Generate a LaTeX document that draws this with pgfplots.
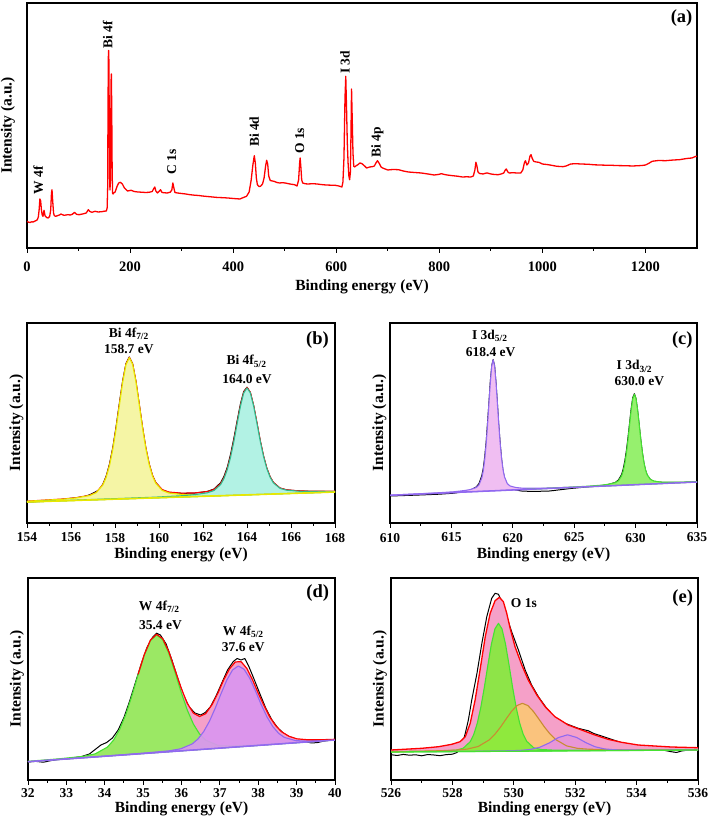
\documentclass[border=0pt]{standalone}
\usepackage{pgfplots}
\pgfplotsset{compat=1.18}
\usepackage{fontspec}
\setmainfont{Liberation Serif}
\definecolor{yfill}{RGB}{245,245,165}
\definecolor{yline}{RGB}{232,232,0}
\definecolor{cfill}{RGB}{178,242,228}
\definecolor{cline}{RGB}{50,185,140}
\definecolor{pfill}{RGB}{240,190,242}
\definecolor{pline}{RGB}{145,105,240}
\definecolor{gfill}{RGB}{150,240,110}
\definecolor{gline}{RGB}{70,225,50}
\definecolor{dgfill}{RGB}{155,232,100}
\definecolor{dpfill}{RGB}{218,150,240}
\definecolor{pinkfill}{RGB}{245,160,200}
\definecolor{egfill}{RGB}{125,240,50}
\definecolor{ofill}{RGB}{250,195,125}
\definecolor{oline}{RGB}{200,140,50}
\definecolor{epfill}{RGB}{232,150,215}
\newcommand{\lab}{\fontsize{15.5}{16}\selectfont\bfseries}
\newcommand{\ann}{\fontsize{13.5}{15}\selectfont\bfseries}
\newcommand{\pan}{\fontsize{18.5}{19}\selectfont\bfseries}
\pgfplotsset{
  panel/.style={
    scale only axis,
    anchor=south west,
    axis line style={line width=1.1pt},
    tick align=outside,
    xtick pos=bottom,
    ytick=\empty,
    major tick length=5pt,
    minor tick length=3pt,
    tick style={black, line width=0.9pt},
    minor x tick num=1,
    ymin=0,
    /pgf/number format/assume math mode=true,
    /pgf/number format/1000 sep={},
    xlabel={Binding energy (eV)},
    ylabel={Intensity (a.u.)},
    xticklabel style={font=\fontsize{13.5}{14}\selectfont\bfseries},
  }
}
\begin{document}
\begin{tikzpicture}
\useasboundingbox (0pt,0pt) rectangle (710pt,821pt);
% ---------------- (a) ----------------
\begin{axis}[panel, at={(27pt,573pt)}, width=670pt, height=245pt,
  xmin=0, xmax=1300, ymax=245,
  xtick={0,200,400,600,800,1000,1200},
  xticklabel style={font=\fontsize{14.5}{15}\selectfont\bfseries, yshift=-5pt},
  every axis x label/.style={at={([yshift=-38.7pt]axis description cs:0.5,0)}, anchor=center, font=\lab},
  every axis y label/.style={at={([xshift=-19pt]axis description cs:0,0.5)}, anchor=center, rotate=90, font=\lab},
]
\addplot[red, line width=1.3pt, line join=round] coordinates {
(0,26.7)(3,25.8)(6,25.5)(9,26.2)(12,26)(15,26.8)(18,27.5)(20,28.3)(22,31)(23.5,38)(25,49)(26.5,47)(28,38)(29.5,33)(31,31.7)(33,37.7)(35,32.3)(38,30.5)(41,30)(44,31.5)(46,38)(47.5,55)(48.5,58.3)(50,46)(51.5,35)(53,32.3)(56,31.7)(60,32.5)(63,33)(66,34)(69,33.2)(72,32.7)(76,33)(79,33.3)(84,33)(88,33.7)(92,35.7)(96,33.7)(101,33.3)(106,33.8)(110,34.3)(115,35)(119,38.3)(122,36.5)(126,35.7)(132,36.7)(138,36)(145,36.3)(150,36.8)(154,37)(155.5,40)(156.5,60)(157.2,140)(157.8,190)(158.4,197.5)(159,185)(159.6,120)(160.3,70)(161,58)(161.8,68)(162.5,120)(163.2,168)(163.7,174)(164.4,140)(165.2,80)(166,55)(167,54)(168,55)(171,56)(175,62)(178,65)(181,65.7)(185,64)(189,60)(195,57)(202,57.7)(208,56.5)(215,56)(222,55.8)(230,55.5)(237,55.7)(243,56.5)(246,59.5)(248,61)(250,57)(253,55)(256,56.5)(259,58.3)(262,55.5)(267,55.2)(272,55)(278,55.8)(281,58)(283,65)(285,60)(287,55.5)(292,55)(300,54.5)(308,54)(316,53.3)(325,52.8)(333,52.5)(340,52)(350,51.5)(360,51)(370,50.5)(380,50.3)(390,50)(400,49.5)(413,49)(420,50.5)(426,51.7)(431,56)(435,68)(438,82)(441,92.3)(443,85)(445,70)(447,63.3)(450,61.5)(453,61.7)(457,64)(460,70)(463,82)(465,87.7)(467,84)(469,72)(472,67.5)(476,67)(479,66.7)(485,65.5)(490,65)(496,65.3)(501,65)(510,64)(519,63.3)(524,62)(527,68)(529,85)(530,90)(531.5,80)(533,68)(535,65)(540,64.2)(545,64)(555,64.3)(563,64)(570,63.5)(580,63)(590,62.8)(598,62.7)(605,62)(611,61)(613,66)(615,90)(617,150)(618.5,171.7)(620,140)(621.5,105)(623,85)(624.5,72)(626,68.3)(627.5,76)(628.5,110)(629.7,159)(631,130)(632.5,95)(634,81.7)(636,81)(638,82)(642,83.3)(646,85)(650,84.3)(655,82)(659,80)(665,81)(670,81.3)(674,82)(677,85)(680,87.3)(683,85)(687,81)(690,80)(695,79)(700,78)(710,78.5)(721,78.3)(730,77)(740,76)(752,75.5)(765,75)(778,74)(790,73)(798,73.5)(804,74.3)(810,73.5)(815,73)(826,72.3)(835,71.8)(845,71)(853,71.2)(861,71)(866,72)(869,78)(871,85.7)(873,82)(875,76)(878,74.5)(885,74)(890,74.8)(893,75)(900,74)(907,73.5)(914,73.3)(920,74)(925,75)(928,78)(930,79)(933,76)(936,75)(943,75.3)(950,75)(958,75)(962,78)(965,85)(967,87.3)(970,83)(973,85)(976,92)(978,93.3)(980,90)(983,86.7)(988,86)(993,85.7)(1000,84)(1011,83.3)(1020,82.5)(1028,81.7)(1035,81.5)(1040,81.3)(1046,82)(1055,84)(1064,84.3)(1075,84)(1090,83.7)(1100,83.2)(1110,83)(1122,82.8)(1134,82.7)(1147,82.4)(1160,82.3)(1175,82)(1187,82.3)(1195,82.6)(1200,83)(1206,84.5)(1213,86.7)(1225,87.5)(1239,87.3)(1250,87.8)(1255,88)(1266,88.3)(1280,89.5)(1290,90)(1298,91.7)(1300,91.5)
};
\node[rotate=90, font=\ann] at (axis cs:22,68) {W 4f};
\node[rotate=90, font=\ann] at (axis cs:156.5,213.3) {Bi 4f};
\node[rotate=90, font=\ann] at (axis cs:281,86.3) {C 1s};
\node[rotate=90, font=\ann] at (axis cs:441,116.3) {Bi 4d};
\node[rotate=90, font=\ann] at (axis cs:529,107.3) {O 1s};
\node[rotate=90, font=\ann] at (axis cs:617,185.7) {I 3d};
\node[rotate=90, font=\ann] at (axis cs:680,106) {Bi 4p};
\node[font=\pan] at (axis cs:1270,230) {(a)};
\end{axis}
% ---------------- (b) ----------------
\begin{axis}[panel, at={(27pt,298pt)}, width=308pt, height=200pt,
  xmin=154, xmax=168, ymax=200,
  xtick={154,156,158,160,162,164,166,168},
  xticklabel style={yshift=-1.5pt},
  every axis x label/.style={at={([yshift=-32pt]axis description cs:0.5,0)}, anchor=center, font=\lab},
  every axis y label/.style={at={([xshift=-10.5pt]axis description cs:0,0.5)}, anchor=center, rotate=90, font=\lab},
]
\addplot[black, line width=1pt, line join=round] coordinates {
(154,21.0)(154.5,21.4)(155,22.0)(155.65,23.8)(156.25,25.3)(156.6,26.5)(156.85,28.2)(157.15,31.5)(157.3,33.5)(157.45,39.0)(157.6,47.0)(157.75,59.0)(157.9,75.5)(158.05,96.5)(158.2,120.0)(158.35,142.5)(158.5,159.5)(158.65,166.0)(158.8,159.3)(158.95,141.7)(159.1,118.9)(159.25,95.7)(159.4,75.2)(159.55,59.3)(159.7,47.8)(159.85,40.5)(160.15,33.0)(160.45,30.6)(161.05,29.6)(161.65,30.0)(162.2,31.6)(162.5,34.0)(162.8,40.3)(162.95,46.5)(163.1,55.5)(163.25,68.5)(163.4,84.5)(163.55,102.0)(163.7,119.0)(163.85,131.5)(164.0,135.8)(164.15,130.5)(164.3,117.4)(164.45,100.0)(164.6,82.3)(164.75,67.0)(164.9,54.8)(165.05,46.2)(165.2,40.5)(165.5,34.9)(165.8,33.1)(166.4,32.0)(167.0,31.6)(168,31.4)
};
\addplot[red, line width=1.2pt, line join=round] coordinates {
(154,21.8)(155.65,24.0)(156.25,25.3)(156.85,27.7)(157.15,30.6)(157.45,38.4)(157.6,46.1)(157.75,57.7)(157.9,74.0)(158.05,94.7)(158.2,118.2)(158.35,141.3)(158.5,158.9)(158.65,165.7)(158.8,159.1)(158.95,141.7)(159.1,118.9)(159.25,95.7)(159.4,75.2)(159.55,59.3)(159.7,47.8)(159.85,40.5)(160.15,33.3)(160.45,30.9)(161.05,29.8)(161.65,30.1)(162.2,31.4)(162.5,33.5)(162.8,39.3)(162.95,45.1)(163.1,53.9)(163.25,66.2)(163.4,81.9)(163.55,99.7)(163.7,117.2)(163.85,130.5)(164.0,135.6)(164.15,130.7)(164.3,117.6)(164.45,100.3)(164.6,82.5)(164.75,67.0)(164.9,54.8)(165.05,46.2)(165.2,40.5)(165.5,34.9)(165.8,33.1)(166.4,32.0)(167.0,31.7)(168,31.9)
};
\addplot[draw=yline, fill=yfill, line width=1.2pt, line join=round] coordinates {
(154,21.7)(155.65,23.8)(156.25,25.1)(156.85,27.5)(157.15,30.4)(157.45,38.1)(157.6,45.8)(157.75,57.4)(157.9,73.7)(158.05,94.4)(158.2,117.9)(158.35,140.9)(158.5,158.5)(158.65,165.3)(158.8,158.7)(158.95,141.3)(159.1,118.5)(159.25,95.2)(159.4,74.7)(159.55,58.7)(159.7,47.2)(159.85,39.8)(160.15,32.5)(160.45,30.0)(161.05,28.5)(161.65,28.1)(162.85,28.2)(164.65,29.0)(167.65,30.9)(168,31.1)(168,31)(154,21)
} -- cycle;
\addplot[draw=cline, fill=cfill, line width=1.1pt, line join=round] coordinates {
(154,21.1)(159.8,25.8)(161.0,27.2)(161.6,28.3)(162.2,30.2)(162.5,32.5)(162.8,38.4)(162.95,44.3)(163.1,53.1)(163.25,65.5)(163.4,81.2)(163.55,99.1)(163.7,116.6)(163.85,129.9)(164.0,135.1)(164.15,130.2)(164.3,117.1)(164.45,99.8)(164.6,82.1)(164.75,66.6)(164.9,54.4)(165.05,45.8)(165.2,40.1)(165.5,34.6)(165.8,32.8)(166.4,31.7)(167.0,31.5)(168,31.7)(168,31)(154,21)
} -- cycle;
\addplot[yline, line width=1.6pt] coordinates {(154,21)(168,31)};
\node[font=\ann, align=center] at (axis cs:158.63,189.3) {Bi 4f\textsubscript{7/2}};
\node[font=\ann] at (axis cs:158.63,174.3) {158.7 eV};
\node[font=\ann] at (axis cs:163.98,161.7) {Bi 4f\textsubscript{5/2}};
\node[font=\ann] at (axis cs:164.0,144.3) {164.0 eV};
\node[font=\pan] at (axis cs:167.2,182.7) {(b)};
\end{axis}
% ---------------- (c) ----------------
\begin{axis}[panel, at={(390pt,298pt)}, width=307pt, height=200pt,
  xmin=610, xmax=635, ymax=200,
  xtick={610,615,620,625,630,635},
  xticklabel style={yshift=-1.5pt},
  every axis x label/.style={at={([yshift=-32pt]axis description cs:0.5,0)}, anchor=center, font=\lab},
  every axis y label/.style={at={([xshift=-10.5pt]axis description cs:0,0.5)}, anchor=center, rotate=90, font=\lab},
]
\addplot[black, line width=1pt, line join=round] coordinates {
(610,27.0)(612,27.8)(614,28.8)(615.2,29.8)(616.1,31.5)(616.56,33)(617.02,36)(617.25,39.5)(617.48,47.5)(617.6,55)(617.71,66)(617.83,81)(617.94,100)(618.06,121)(618.17,142)(618.29,157.5)(618.4,163.5)(618.52,157)(618.63,140.5)(618.75,119)(618.86,97.5)(618.98,78.5)(619.09,63.5)(619.2,52.5)(619.32,45)(619.55,38)(619.78,35)(620.24,33)(620.7,32)(621.6,31.5)(623,32)(624.7,34.5)(626.26,36.3)(627.3,37.6)(627.82,38.7)(628.34,40.5)(628.6,43)(628.86,48.5)(628.99,54)(629.12,62)(629.25,72.5)(629.38,85.5)(629.51,100)(629.64,114.5)(629.77,125.5)(629.9,129.3)(630.03,124.5)(630.16,113)(630.29,98.5)(630.42,83.5)(630.55,70.5)(630.68,60)(630.81,52.8)(630.94,48)(631.2,43.5)(631.46,41.8)(631.98,40.8)(632.5,40.6)(633.54,40.6)(634.3,40.8)(635,41.3)
};
\addplot[draw=pline, fill=pfill, line width=1.1pt, line join=round] coordinates {
(610,27.8)(613.8,30.1)(615.18,31.2)(616.1,32.5)(616.56,33.5)(617.02,35.5)(617.25,38.2)(617.48,45.3)(617.595,52.4)(617.71,63.2)(617.825,78.2)(617.94,97.4)(618.055,119.2)(618.17,140.5)(618.285,156.9)(618.4,163.2)(618.515,157.0)(618.63,140.8)(618.745,119.5)(618.86,97.9)(618.975,78.9)(619.09,63.9)(619.205,53.2)(619.32,46.3)(619.55,39.4)(619.78,37.0)(620.24,35.5)(620.7,34.9)(621.62,34.7)(623.0,35.0)(625.3,36.0)(635,41.0)(635,41)(610,27.7)
} -- cycle;
\addplot[draw=gline, fill=gfill, line width=1.1pt, line join=round] coordinates {
(621,33.6)(624.7,35.8)(626.26,36.9)(627.3,37.9)(627.82,38.8)(628.34,40.3)(628.6,42.2)(628.86,47.1)(628.99,52.0)(629.12,59.5)(629.25,69.9)(629.38,83.2)(629.51,98.3)(629.64,113.1)(629.77,124.3)(629.9,128.7)(630.03,124.5)(630.16,113.3)(630.29,98.7)(630.42,83.8)(630.55,70.6)(630.68,60.3)(630.81,53.0)(630.94,48.2)(631.2,43.6)(631.46,42.0)(631.98,41.0)(632.5,40.7)(633.54,40.8)(635,41.3)(635,41)(621,33.55)
} -- cycle;
\addplot[pline, line width=1.5pt] coordinates {(610,27.7)(635,41)};
\node[font=\ann] at (axis cs:618.13,187) {I 3d\textsubscript{5/2}};
\node[font=\ann] at (axis cs:618.2,171) {618.4 eV};
\node[font=\ann] at (axis cs:629.9,156.7) {I 3d\textsubscript{3/2}};
\node[font=\ann] at (axis cs:630.3,142) {630.0 eV};
\node[font=\pan] at (axis cs:633.8,182.7) {(c)};
\end{axis}
% ---------------- (d) ----------------
\begin{axis}[panel, at={(28pt,41pt)}, width=307pt, height=202pt,
  xmin=32, xmax=40, ymax=202,
  xtick={32,33,34,35,36,37,38,39,40},
  every axis x label/.style={at={([yshift=-29pt]axis description cs:0.5,0)}, anchor=center, font=\lab},
  every axis y label/.style={at={([xshift=-11pt]axis description cs:0,0.5)}, anchor=center, rotate=90, font=\lab},
]
\addplot[black, line width=1pt, line join=round] coordinates {
(32.0,18.0)(32.2,18.6)(32.4,17.8)(32.6,19.4)(32.8,20.6)(33.0,21.0)(33.2,22.3)(33.4,23.5)(33.6,26.0)(33.75,30.5)(33.9,35.0)(34.05,37.5)(34.2,42.0)(34.35,50.0)(34.5,62.5)(34.65,79.0)(34.8,97.5)(34.95,116.0)(35.1,132.5)(35.25,143.0)(35.35,146.8)(35.45,145.0)(35.6,136.0)(35.75,120.0)(35.9,102.0)(36.05,85.0)(36.2,73.0)(36.35,67.0)(36.5,65.0)(36.62,67.5)(36.75,73.0)(36.9,84.0)(37.05,97.0)(37.2,110.0)(37.35,118.5)(37.45,121.5)(37.55,120.0)(37.65,121.5)(37.75,114.0)(37.9,100.0)(38.05,85.5)(38.2,71.5)(38.35,60.5)(38.5,52.5)(38.65,47.0)(38.8,43.5)(38.95,41.5)(39.1,39.5)(39.25,38.0)(39.4,37.0)(39.55,37.5)(39.7,38.8)(39.85,39.8)(40.0,40.5)
};
\addplot[draw=none, fill=pinkfill] coordinates {
(32,18.8)(32.79,21.3)(33.43,23.7)(33.75,26.3)(34.07,33.1)(34.23,40.2)(34.39,50.9)(34.55,65.9)(34.71,84.8)(34.87,105.7)(35.03,125.4)(35.19,139.9)(35.35,145.7)(35.51,141.4)(35.67,128.3)(35.83,110.2)(35.99,92.1)(36.15,76.7)(36.31,66.9)(36.47,63.5)(36.63,66.3)(36.8,75.6)(36.95,87.0)(37.1,100.1)(37.25,111.1)(37.4,118.0)(37.55,118.4)(37.7,111.7)(37.85,100.3)(38.0,86.8)(38.15,74.4)(38.3,63.0)(38.45,54.6)(38.6,48.4)(38.8,43.7)(39.0,41.2)(39.3,40.2)(39.6,40.2)(40,40.7)(40,40)(32,18.3)
} -- cycle;
\addplot[draw=gline, fill=dgfill, line width=1.1pt, line join=round] coordinates {
(32,18.7)(32.79,21.1)(33.43,23.6)(33.75,26.1)(34.07,32.9)(34.23,39.9)(34.39,50.7)(34.55,65.6)(34.71,84.5)(34.87,105.3)(35.03,124.9)(35.19,139.4)(35.35,145.0)(35.51,140.2)(35.67,126.7)(35.83,107.9)(35.99,87.9)(36.15,70.0)(36.31,55.9)(36.47,46.0)(36.63,39.8)(36.95,34.7)(37.27,34.0)(37.91,35.0)(38.55,36.5)(40,40.2)(40,40)(32,18.3)
} -- cycle;
\addplot[draw=pline, fill=dpfill, fill opacity=0.92, line width=1.1pt, line join=round] coordinates {
(32,18.4)(34.48,25.3)(35.08,27.1)(35.68,29.2)(35.98,31.2)(36.28,36.1)(36.43,41.0)(36.58,48.5)(36.73,58.9)(36.88,71.9)(37.03,86.3)(37.18,99.9)(37.33,110.0)(37.48,114.0)(37.63,110.8)(37.78,101.6)(37.93,88.8)(38.08,75.2)(38.23,63.0)(38.38,53.4)(38.53,46.7)(38.68,42.6)(38.98,39.3)(39.28,39.0)(39.88,40.1)(40,40.45)(40,40)(32,18.3)
} -- cycle;
\addplot[red, line width=1.2pt, line join=round] coordinates {
(34.87,105.7)(35.03,125.4)(35.19,139.9)(35.35,145.7)(35.51,141.4)(35.67,128.3)(35.83,110.2)(35.99,92.1)(36.15,76.7)(36.31,66.9)(36.47,63.5)(36.63,66.3)(36.8,75.6)(36.95,87.0)(37.1,100.1)(37.25,111.1)(37.4,118.0)(37.55,118.4)(37.7,111.7)(37.85,100.3)(38.0,86.8)(38.15,74.4)(38.3,63.0)(38.45,54.6)(38.6,48.4)(38.8,43.7)(39.0,41.2)(39.3,40.2)(39.6,40.2)(40,40.7)
};
\addplot[pline, line width=1.5pt] coordinates {(32,18.3)(40,40)};
\node[font=\ann] at (axis cs:35.42,173.3) {W 4f\textsubscript{7/2}};
\node[font=\ann] at (axis cs:35.45,155) {35.4 eV};
\node[font=\ann] at (axis cs:37.61,148.3) {W 4f\textsubscript{5/2}};
\node[font=\ann] at (axis cs:37.61,132.7) {37.6 eV};
\node[font=\pan] at (axis cs:39.55,186.7) {(d)};
\end{axis}
% ---------------- (e) ----------------
\begin{axis}[panel, at={(391pt,41pt)}, width=307pt, height=202pt,
  xmin=526, xmax=536, ymax=202,
  xtick={526,528,530,532,534,536},
  every axis x label/.style={at={([yshift=-29pt]axis description cs:0.5,0)}, anchor=center, font=\lab},
  every axis y label/.style={at={([xshift=-11pt]axis description cs:0,0.5)}, anchor=center, rotate=90, font=\lab},
]
\addplot[black, line width=1pt, line join=round] coordinates {
(526,25.3)(526.2,24.5)(526.4,25.6)(526.6,24.8)(526.8,25.2)(527,24.2)(527.2,25.5)(527.4,25)(527.6,24.3)(527.8,25.4)(528,25.8)(528.15,27.5)(528.3,33.3)(528.42,46.7)(528.52,60)(528.63,80)(528.8,106.7)(528.96,136.7)(529.12,163.3)(529.28,181.7)(529.39,186.7)(529.5,185.7)(529.61,178.3)(529.77,163.3)(529.93,148.3)(530.15,130)(530.37,110)(530.58,95)(530.8,83.3)(531.07,71.7)(531.34,61.7)(531.5,60)(531.67,56.7)(531.9,54)(532.1,51.7)(532.25,50.5)(532.42,49.3)(532.6,46.5)(532.86,44)(533.0,42.5)(533.18,40.7)(533.35,39)(533.51,37.3)(533.8,35)(534.05,33.3)(534.3,32.2)(534.59,31.3)(534.85,30)(535.13,28.3)(535.3,27.5)(535.46,29)(535.7,30)(536,30.7)
};
\addplot[draw=none, fill=pinkfill] coordinates {
(526.0,30.0)(527.0,31.7)(527.55,33.3)(527.98,35.7)(528.25,38.3)(528.42,43.3)(528.58,56.7)(528.74,80)(528.9,110)(529.07,143.3)(529.23,166.7)(529.39,179.3)(529.53,182.7)(529.66,178.3)(529.77,166.7)(529.88,151.7)(530.04,133.3)(530.26,115)(530.47,100)(530.75,85)(531.02,73.3)(531.34,63.3)(531.77,55)(532.21,50)(532.64,45)(533.07,40.7)(533.51,37.7)(534.05,35)(534.59,34)(535.13,33)(536.0,32.3)(536,30)(526,28)
} -- cycle;
\addplot[draw=none, fill=ofill] coordinates {
(526,28.4)(527.4,29.1)(528.12,29.9)(528.48,30.9)(528.84,33.5)(529.2,40.1)(529.38,45.6)(529.56,52.6)(529.74,60.6)(529.92,68.4)(530.1,74.4)(530.28,76.7)(530.46,74.4)(530.64,68.5)(530.82,60.8)(531.0,52.9)(531.18,46.0)(531.36,40.5)(531.72,34.1)(532.08,31.6)(532.44,30.8)(533.16,30.3)(533.88,30.1)(536,30.2)(536,30)(526,28)
} -- cycle;
\addplot[draw=none, fill=epfill] coordinates {
(527,28.3)(528.75,28.7)(529.35,29.0)(529.95,29.3)(530.25,29.7)(530.55,30.6)(530.85,32.8)(531.15,37.0)(531.45,42.4)(531.75,45.2)(532.05,42.5)(532.35,37.3)(532.65,33.2)(532.95,31.1)(533.25,30.3)(533.55,30.0)(534.75,29.9)(536,30.1)(536,30)(527,28.2)
} -- cycle;
\addplot[draw=gline, fill=egfill, fill opacity=0.85, line width=1.1pt, line join=round] coordinates {
(526,28.2)(527.2,28.7)(527.66,29.1)(528.12,29.9)(528.35,31.7)(528.58,38.3)(528.695,45.5)(528.81,56.7)(528.925,72.6)(529.04,92.6)(529.155,114.8)(529.27,135.8)(529.385,151.1)(529.5,156.7)(529.615,151.1)(529.73,135.9)(529.845,115.0)(529.96,92.8)(530.075,72.8)(530.19,57.0)(530.305,45.8)(530.42,38.7)(530.65,32.2)(530.88,30.5)(531.34,29.8)(531.8,29.7)(536,30.1)(536,30)(526,28)
} -- cycle;
\addplot[oline, line width=1.1pt, line join=round] coordinates {
(526,28.4)(527.4,29.1)(528.12,29.9)(528.48,30.9)(528.84,33.5)(529.2,40.1)(529.38,45.6)(529.56,52.6)(529.74,60.6)(529.92,68.4)(530.1,74.4)(530.28,76.7)(530.46,74.4)(530.64,68.5)(530.82,60.8)(531.0,52.9)(531.18,46.0)(531.36,40.5)(531.72,34.1)(532.08,31.6)(532.44,30.8)(533.16,30.3)(533.88,30.1)(536,30.2)
};
\addplot[pline, line width=1.1pt, line join=round] coordinates {
(527,28.3)(528.75,28.7)(529.35,29.0)(529.95,29.3)(530.25,29.7)(530.55,30.6)(530.85,32.8)(531.15,37.0)(531.45,42.4)(531.75,45.2)(532.05,42.5)(532.35,37.3)(532.65,33.2)(532.95,31.1)(533.25,30.3)(533.55,30.0)(534.75,29.9)(536,30.1)
};
\addplot[red, line width=1.3pt, line join=round] coordinates {
(526.0,30.0)(527.0,31.7)(527.55,33.3)(527.98,35.7)(528.25,38.3)(528.42,43.3)(528.58,56.7)(528.74,80)(528.9,110)(529.07,143.3)(529.23,166.7)(529.39,179.3)(529.53,182.7)(529.66,178.3)(529.77,166.7)(529.88,151.7)(530.04,133.3)(530.26,115)(530.47,100)(530.75,85)(531.02,73.3)(531.34,63.3)(531.77,55)(532.21,50)(532.64,45)(533.07,40.7)(533.51,37.7)(534.05,35)(534.59,34)(535.13,33)(536.0,32.3)
};
\addplot[gline, line width=1.3pt] coordinates {(526,28)(536,30)};
\node[font=\ann] at (axis cs:530.33,176.7) {O 1s};
\node[font=\pan] at (axis cs:535.5,181.7) {(e)};
\end{axis}
\end{tikzpicture}
\end{document}
